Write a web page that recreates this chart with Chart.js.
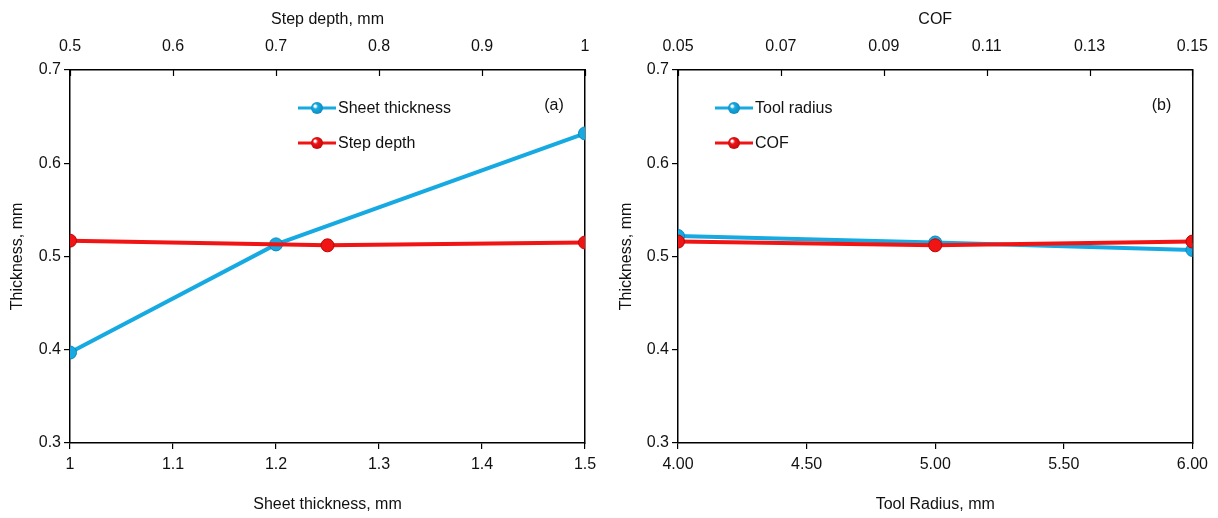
<!DOCTYPE html>
<html>
<head>
<meta charset="utf-8">
<script src="https://cdn.jsdelivr.net/npm/chart.js@4.4.1/dist/chart.umd.min.js"></script>
<style>
  html, body { margin: 0; padding: 0; background: #fff; overflow: hidden; }
  .panel { position: absolute; top: 0; width: 609px; height: 518px; }
  #wrap-a { left: 0; }
  #wrap-b { left: 609px; width: 613px; }
</style>
</head>
<body>
<div class="panel" id="wrap-a"><canvas id="chart-a"></canvas></div>
<div class="panel" id="wrap-b"><canvas id="chart-b"></canvas></div>
<script>
// Panel (a): sheet thickness (bottom axis) and step depth (top axis)
const sheetThickness = [1, 1.2, 1.5];
const sheetThicknessValues = [0.397, 0.513, 0.632];
const stepDepth = [0.5, 0.75, 1];
const stepDepthValues = [0.517, 0.512, 0.515];

// Panel (b): tool radius (bottom axis) and COF (top axis)
const toolRadius = [4, 5, 6];
const toolRadiusValues = [0.522, 0.515, 0.507];
const cof = [0.05, 0.10, 0.15];
const cofValues = [0.516, 0.512, 0.516];

const thicknessTicks = [0.3, 0.4, 0.5, 0.6, 0.7];

const BLUE = '#17aae2';
const BLUE_DARK = '#0b86b8';
const RED = '#f01414';
const RED_DARK = '#b80808';
const NARROW = "'Liberation Sans Narrow', 'Arial Narrow', 'Liberation Sans', Arial, sans-serif";
const REGULAR = "'Liberation Sans', Arial, sans-serif";

function toPoints(xs, ys) {
  return xs.map((x, i) => ({x: x, y: ys[i]}));
}

function makeMarker(color, dark) {
  const c = document.createElement('canvas');
  c.width = 38; c.height = 16;
  const g = c.getContext('2d');
  g.strokeStyle = color;
  g.lineWidth = 3;
  g.beginPath(); g.moveTo(0, 8); g.lineTo(38, 8); g.stroke();
  const grad = g.createRadialGradient(17, 6, 1, 19, 8, 7);
  grad.addColorStop(0, '#ffffff');
  grad.addColorStop(0.25, color);
  grad.addColorStop(1, dark);
  g.fillStyle = grad;
  g.beginPath(); g.arc(19, 8, 6, 0, Math.PI * 2); g.fill();
  return c;
}

// legend, panel tag and inward top ticks drawn on the canvas
const decorPlugin = {
  id: 'decor',
  afterDraw(chart, args, opts) {
    const {ctx, chartArea} = chart;
    ctx.save();
    // inward tick marks on the top axis
    const top = chart.scales.x2;
    ctx.strokeStyle = '#000';
    ctx.lineWidth = 1.2;
    top.ticks.forEach(t => {
      const px = Math.round(top.getPixelForValue(t.value)) + 0.5;
      ctx.beginPath();
      ctx.moveTo(px, chartArea.top);
      ctx.lineTo(px, chartArea.top + 6);
      ctx.stroke();
    });
    // legend
    ctx.font = '16px ' + NARROW;
    ctx.fillStyle = '#111';
    ctx.textBaseline = 'middle';
    opts.items.forEach((it, i) => {
      const y = chartArea.top + opts.legendY + i * 35;
      ctx.drawImage(makeMarker(it.color, it.dark), chartArea.left + opts.legendX, y - 8);
      ctx.fillText(it.label, chartArea.left + opts.legendX + 40, y + 1);
    });
    // panel tag
    ctx.textAlign = 'center';
    ctx.fillText(opts.tag, chartArea.right - 31, chartArea.top + 36);
    ctx.restore();
  }
};

function pointStyleFor(color, dark) {
  return {
    borderColor: color,
    backgroundColor: color,
    pointBackgroundColor: color,
    pointBorderColor: dark,
    pointBorderWidth: 1,
    pointRadius: 6.5,
    borderWidth: 4,
    tension: 0
  };
}

function buildChart(id, cfg) {
  const tickFont = {family: NARROW, size: 16};
  const titleFont = {family: NARROW, size: 16};
  return new Chart(document.getElementById(id), {
    type: 'line',
    data: {
      datasets: [
        Object.assign({label: cfg.labelA, data: toPoints(cfg.xA, cfg.yA), xAxisID: 'x', order: 2}, pointStyleFor(BLUE, BLUE_DARK)),
        Object.assign({label: cfg.labelB, data: toPoints(cfg.xB, cfg.yB), xAxisID: 'x2', order: 1}, pointStyleFor(RED, RED_DARK))
      ]
    },
    options: {
      responsive: true,
      maintainAspectRatio: false,
      animation: false,
      layout: {padding: {left: cfg.padLeft, right: 0, top: 0, bottom: 0}},
      plugins: {
        legend: {display: false},
        tooltip: {enabled: false},
        decor: {
          tag: cfg.tag,
          legendX: cfg.legendX,
          legendY: 38,
          items: [
            {label: cfg.labelA, color: BLUE, dark: BLUE_DARK},
            {label: cfg.labelB, color: RED, dark: RED_DARK}
          ]
        }
      },
      scales: {
        x: {
          type: 'linear', position: 'bottom',
          min: cfg.xMin, max: cfg.xMax,
          afterBuildTicks: s => { s.ticks = cfg.xTicks.map(v => ({value: v})); },
          afterFit: s => { s.height = 75; },
          ticks: {
            color: '#111', font: tickFont, padding: 6,
            callback: v => cfg.xFmt(v)
          },
          grid: {drawOnChartArea: false, tickLength: 6, color: '#000', lineWidth: 1.2},
          border: {color: '#000', width: 1.5},
          title: {display: true, text: cfg.xTitle, color: '#111', font: titleFont, padding: {top: 14}}
        },
        x2: {
          type: 'linear', position: 'top',
          min: cfg.x2Min, max: cfg.x2Max,
          afterBuildTicks: s => { s.ticks = cfg.x2Ticks.map(v => ({value: v})); },
          afterFit: s => { s.height = 70; },
          ticks: {
            color: '#111', font: tickFont, padding: 14,
            callback: v => cfg.x2Fmt(v)
          },
          grid: {drawOnChartArea: false, drawTicks: false, color: '#000'},
          border: {color: '#000', width: 1.5},
          title: {display: true, text: cfg.x2Title, color: '#111', font: titleFont, padding: {bottom: 2, top: 10}}
        },
        y: {
          type: 'linear', position: 'left',
          min: 0.3, max: 0.7,
          afterBuildTicks: s => { s.ticks = thicknessTicks.map(v => ({value: v})); },
          afterFit: s => { s.width = cfg.yWidth; },
          ticks: {color: '#111', font: tickFont, padding: 3, callback: v => String(+v.toFixed(1))},
          grid: {drawOnChartArea: false, tickLength: 6, color: '#000', lineWidth: 1.2},
          border: {color: '#000', width: 1.5},
          title: {display: true, text: 'Thickness, mm', color: '#111', font: {family: REGULAR, size: 16}, padding: {top: 8, bottom: 6}}
        },
        y2: {
          type: 'linear', position: 'right',
          min: 0.3, max: 0.7,
          afterFit: s => { s.width = cfg.rightWidth; },
          ticks: {display: false},
          grid: {drawOnChartArea: false, drawTicks: false},
          border: {color: '#000', width: 1.5}
        }
      }
    },
    plugins: [decorPlugin]
  });
}

buildChart('chart-a', {
  labelA: 'Sheet thickness', xA: sheetThickness, yA: sheetThicknessValues,
  labelB: 'Step depth', xB: stepDepth, yB: stepDepthValues,
  xMin: 1, xMax: 1.5, xTicks: [1, 1.1, 1.2, 1.3, 1.4, 1.5],
  xFmt: v => String(+v.toFixed(1)),
  x2Min: 0.5, x2Max: 1, x2Ticks: [0.5, 0.6, 0.7, 0.8, 0.9, 1],
  x2Fmt: v => String(+v.toFixed(1)),
  xTitle: 'Sheet thickness, mm', x2Title: 'Step depth, mm',
  yWidth: 70, rightWidth: 24, padLeft: 0,
  legendX: 228, tag: '(a)'
});

buildChart('chart-b', {
  labelA: 'Tool radius', xA: toolRadius, yA: toolRadiusValues,
  labelB: 'COF', xB: cof, yB: cofValues,
  xMin: 4, xMax: 6, xTicks: [4, 4.5, 5, 5.5, 6],
  xFmt: v => v.toFixed(2),
  x2Min: 0.05, x2Max: 0.15, x2Ticks: [0.05, 0.07, 0.09, 0.11, 0.13, 0.15],
  x2Fmt: v => v.toFixed(2),
  xTitle: 'Tool Radius, mm', x2Title: 'COF',
  yWidth: 69, rightWidth: 22, padLeft: 0,
  legendX: 37, tag: '(b)'
});
</script>
</body>
</html>
